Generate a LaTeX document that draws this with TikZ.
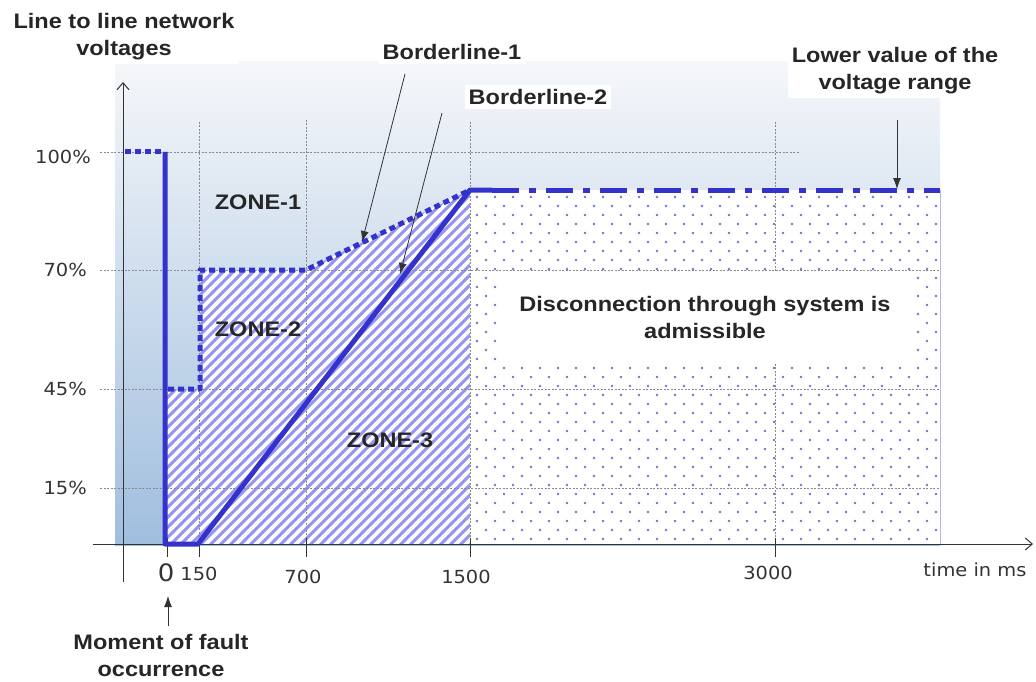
\documentclass[tikz,border=0pt]{standalone}
\usepackage{fontspec}
\setmainfont[FakeStretch=1.12]{Liberation Sans}
\newfontfamily\tickfont[FakeStretch=1.08]{DejaVu Sans}
\usetikzlibrary{arrows.meta}
\definecolor{lineblue}{HTML}{3333CC}
\definecolor{hatchblue}{HTML}{9595F0}
\definecolor{dotblue}{HTML}{7272D0}
\definecolor{bgtop}{HTML}{F5F7FA}
\definecolor{bgmid}{HTML}{DDE6F1}
\definecolor{bgbot}{HTML}{A0BEDE}
\definecolor{gridgray}{HTML}{8A8A8A}
\definecolor{ticktext}{HTML}{333333}
\tikzset{
  lbl/.style={font=\fontsize{21}{27}\selectfont\bfseries, align=center, fill=white, inner sep=4pt, text=black!85},
  zonelbl/.style={font=\fontsize{21}{27}\selectfont\bfseries, align=center, text=black!85},
  ticklbl/.style={font=\tickfont\fontsize{18}{20}\selectfont, text=ticktext, inner sep=1pt},
  gridline/.style={gridgray, line width=0.8pt, dash pattern=on 2pt off 1.5pt},
  blueline/.style={lineblue, line width=5pt},
  bluedot/.style={lineblue, line width=5pt, dash pattern=on 6pt off 4pt},
  bluedashdot/.style={lineblue, line width=5pt, dash pattern=on 27pt off 10pt on 7pt off 10pt},
  note/.style={-{Latex[length=11pt,width=8pt]}, line width=0.8pt, black!80},
  axisline/.style={line width=1pt, black!80, -{Straight Barb[length=7pt,width=12pt]}},
  tickmark/.style={line width=1pt, black!80},
  hatchline/.style={hatchblue, line width=3pt},
}
\begin{document}
\begin{tikzpicture}[x=1pt,y=-1pt]
\useasboundingbox (0,0) rectangle (1036,682);
% background gradient
\shade[top color=bgtop, middle color=bgmid, bottom color=bgbot] (115,62) rectangle (940,545);
% hatched region
\fill[white] (165,390) -- (200,390) -- (200,270) -- (305,270) -- (470,190) -- (470,545) -- (165,545) -- cycle;
\begin{scope}
\clip (165,390) -- (200,390) -- (200,270) -- (305,270) -- (470,190) -- (470,545) -- (165,545) -- cycle;
\foreach \i in {-370,-360,...,320} {
  \draw[hatchline] (165+\i,550) -- ++(370,-370);
}
\end{scope}
% dotted region
\fill[white] (470,190) rectangle (940,545);
\foreach \j in {0,...,38} {
  \pgfmathsetmacro{\yy}{197+9*\j}
  \pgfmathsetmacro{\xo}{mod(\j,2)*9}
  \foreach \k in {0,...,25} {
    \fill[dotblue] (477+\xo+18*\k,\yy) circle (1.4pt);
  }
}
\draw[hatchblue!70, line width=1pt] (940,190) -- (940,545);
% grid
\draw[gridline] (100,152) -- (800,152);
\draw[gridline] (100,270) -- (940,270);
\draw[gridline] (100,389) -- (940,389);
\draw[gridline] (100,488) -- (940,488);
\draw[gridline] (199,122) -- (199,545);
\draw[gridline] (306,120) -- (306,545);
\draw[gridline] (470,122) -- (470,545);
\draw[gridline] (775,122) -- (775,545);
% white text box in dotted region
\fill[white] (497,273) rectangle (913,362);
\node[zonelbl] (adm) at (705,317) {Disconnection through system is\\admissible};
% axes
\coordinate (ybot) at (123,582);
\coordinate (ytop) at (123,82);
\coordinate (xleft) at (93,544);
\coordinate (xright) at (1033,544);
\draw[axisline] (ybot) -- (ytop);
\draw[axisline] (xleft) -- (xright);
\foreach \t/\nm in {167/t0,199/t150,306/t700,470/t1500,775/t3000} {
  \coordinate (\nm a) at (\t,538);
  \coordinate (\nm b) at (\t,557);
  \draw[tickmark] (\nm a) -- (\nm b);
}
% blue curves
\draw[bluedot] (125,152) -- (162,152);
\draw[blueline, line join=round] (165,152) -- (165,544) -- (198,544) -- (470,190) -- (492,190);
\draw[bluedot, line join=round] (168,389) -- (200,389) -- (200,270) -- (306,270) -- (470,190);
\draw[bluedashdot] (492,190) -- (940,190);
% zone labels
\node[zonelbl] (z1) at (258,202) {ZONE-1};
\node[zonelbl] (z2) at (258,329) {ZONE-2};
\node[zonelbl] (z3) at (390,440) {ZONE-3};
% y tick labels
\node[ticklbl, anchor=east] (l100) at (92,157) {100\%};
\node[ticklbl, anchor=east] (l70) at (88,270) {70\%};
\node[ticklbl, anchor=east] (l45) at (88,389) {45\%};
\node[ticklbl, anchor=east] (l15) at (88,488) {15\%};
% x tick labels
\node[ticklbl, font=\tickfont\fontsize{24}{26}\selectfont] (x0) at (166,573) {0};
\node[ticklbl] (x150) at (199,574) {150};
\node[ticklbl] (x700) at (303,577) {700};
\node[ticklbl] (x1500) at (466,577) {1500};
\node[ticklbl] (x3000) at (768,573) {3000};
\node[ticklbl] (xunit) at (975,570) {time in ms};
% annotation labels
\node[lbl] (ylab) at (124,37) {Line to line network\\voltages};
\node[lbl] (b1) at (452,52) {Borderline-1};
\node[lbl] (b2) at (538,97) {Borderline-2};
\node[lbl] (lower) at (895,71) {Lower value of the\\voltage range};
\node[zonelbl] (fault) at (161,655) {Moment of fault\\occurrence};
% annotation arrows
\coordinate (b1tail) at (405,74);
\coordinate (b1tip) at (362,242);
\coordinate (b2tail) at (442,113);
\coordinate (b2tip) at (400,274);
\coordinate (lowtail) at (897,120);
\coordinate (lowtip) at (897,189);
\coordinate (ftail) at (168,626);
\coordinate (ftip) at (168,596);
\draw[note] (b1tail) -- (b1tip);
\draw[note] (b2tail) -- (b2tip);
\draw[note] (lowtail) -- (lowtip);
\draw[note] (ftail) -- (ftip);
\end{tikzpicture}
\end{document}
